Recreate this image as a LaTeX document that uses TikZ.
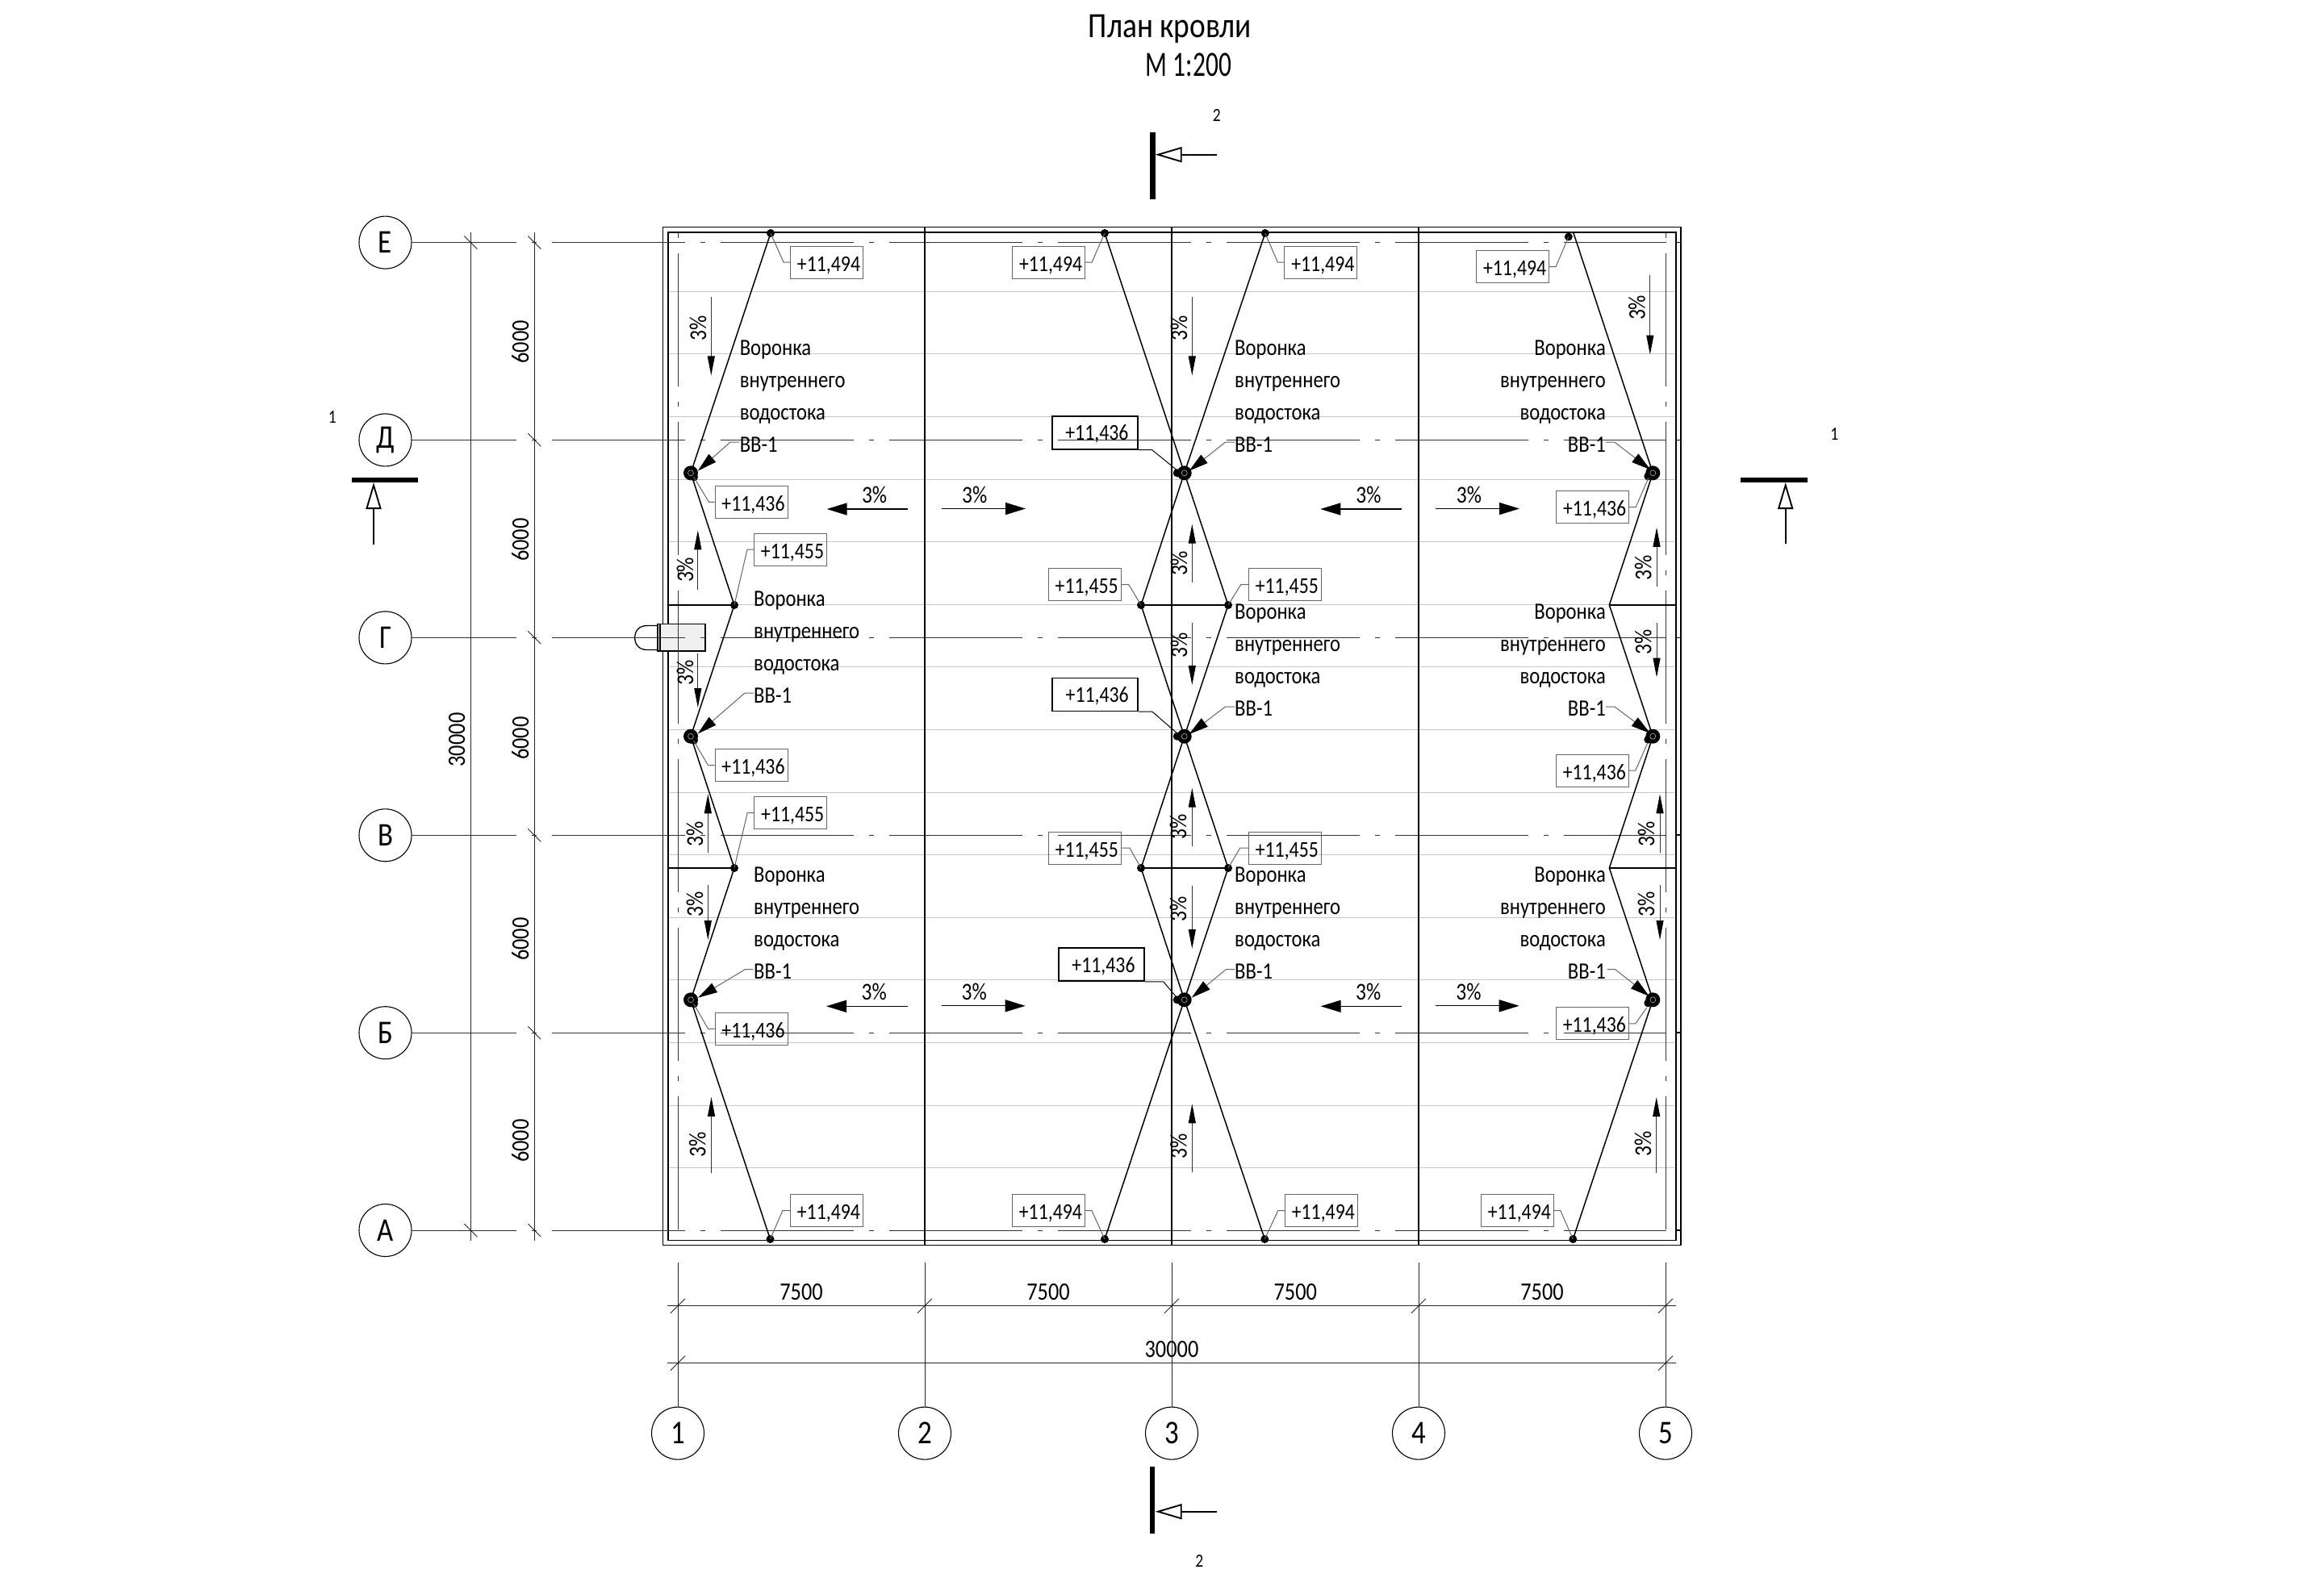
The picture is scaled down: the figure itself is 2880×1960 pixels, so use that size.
\documentclass[tikz,border=0pt]{standalone}
\usepackage{fontspec}
\setmainfont[FakeStretch=0.85]{Carlito}
\usetikzlibrary{arrows.meta}

% one roof funnel: black disc, side blob, thin inner ring
\newcommand{\funnel}[2]{%
  \fill (#1) circle (9);
  \fill (#1) ++(#2) circle (5);
  \draw[gray!60,line width=0.6pt] (#1) circle (3.5);
}

\begin{document}
\begin{tikzpicture}[x=1pt,y=-1pt]
  % overall canvas
  \useasboundingbox (0,0) rectangle (2880,1960);

  % styles
  \tikzset{
    roofln/.style={draw=gray!45,line width=1pt},
    axisln/.style={draw=black!80,line width=1pt,dash pattern=on 165pt off 19pt on 6pt off 19pt},
    solidax/.style={draw=black,line width=1.3pt},
    thinax/.style={draw=black!85,line width=0.9pt},
    wall/.style={draw=black,line width=1.7pt},
    valley/.style={draw=black,line width=1.5pt},
    dimln/.style={draw=black!85,line width=0.9pt},
    leader/.style={draw=black!60,line width=1pt},
    drainarr/.style={leader,-{Triangle[length=24pt,width=13pt,black]}},
    slopev/.style={draw=black!80,line width=1pt,-{Triangle[length=24pt,width=9pt,black]}},
    slopeh/.style={draw=black,line width=1.3pt,-{Triangle[length=25pt,width=15pt,black]}},
    secbar/.style={draw=black,line width=6.5pt},
    secarr/.style={draw=black,line width=1.9pt,-{Triangle[open,length=33pt,width=19pt]}},
    bubble/.style={circle,draw=black,line width=1.1pt,fill=white,minimum size=65pt,inner sep=0pt,font=\fontsize{41}{46}\selectfont},
    lvl/.style={draw=black!60,line width=1pt,minimum width=90pt,minimum height=40pt,inner sep=0pt,text height=22pt,text depth=0pt,
      execute at begin node=\hspace*{5pt},font=\fontsize{28}{32}\selectfont},
    lvlk/.style={lvl,draw=black,line width=1.6pt,minimum width=106pt,minimum height=41pt,text height=19pt},
    dimtxt/.style={inner sep=0pt,font=\fontsize{31}{36}\selectfont},
    slopetxt/.style={inner sep=0pt,font=\fontsize{30}{36}\selectfont},
    noteL/.style={inner sep=0pt,anchor=north west,align=left,font=\fontsize{29}{40}\selectfont},
    noteR/.style={inner sep=0pt,anchor=north east,align=right,font=\fontsize{29}{40}\selectfont},
    smalltxt/.style={inner sep=0pt,anchor=base,font=\fontsize{23}{26}\selectfont},
    titletxt/.style={inner sep=0pt,anchor=base,font=\fontsize{44}{50}\selectfont},
  }

  % white background
  \fill[white] (0,0) rectangle (2880,1960);

  % gray deck lines
  \draw[roofln] (828, 361.3) -- (2077, 361.3);
  \draw[roofln] (828, 438.9) -- (2077, 438.9);
  \draw[roofln] (828, 516.5) -- (2077, 516.5);
  \draw[roofln] (828, 594.1) -- (2077, 594.1);
  \draw[roofln] (828, 671.7) -- (2077, 671.7);
  \draw[roofln] (828, 749.3) -- (2077, 749.3);
  \draw[roofln] (828, 826.9) -- (2077, 826.9);
  \draw[roofln] (828, 904.5) -- (2077, 904.5);
  \draw[roofln] (828, 982.1) -- (2077, 982.1);
  \draw[roofln] (828,1059.7) -- (2077,1059.7);
  \draw[roofln] (828,1137.3) -- (2077,1137.3);
  \draw[roofln] (828,1214.9) -- (2077,1214.9);
  \draw[roofln] (828,1292.5) -- (2077,1292.5);
  \draw[roofln] (828,1370.1) -- (2077,1370.1);
  \draw[roofln] (828,1447.7) -- (2077,1447.7);

  % walls
  \draw[wall] (821.5,281.4) rectangle (2083.3,1543.5);
  \draw[wall] (828,288) rectangle (2077.3,1537.5);
  \draw[wall] (2077.3, 300.6) -- ++(6,0);
  \draw[wall] (2077.3, 545.4) -- ++(6,0);
  \draw[wall] (2077.3, 790.4) -- ++(6,0);
  \draw[wall] (2077.3,1035.3) -- ++(6,0);
  \draw[wall] (2077.3,1280.2) -- ++(6,0);
  \draw[wall] (2077.3,1525.0) -- ++(6,0);

  % scupper
  \draw[wall,fill=gray!12] (815,773.4) rectangle (874.3,806.9);
  \draw[wall] (818.3,773.4) -- (818.3,806.9);
  \draw[line width=1.3pt] (815,775.5) -- (802,775.5)
    .. controls (792,775.5) and (786.7,782) .. (786.7,790.4)
    .. controls (786.7,799) and (792,805.5) .. (802,805.5) -- (815,805.5);

  % grid bubbles
  \node[bubble] (be) at (477.5, 300.6) {Е};
  \node[bubble] (bd) at (477.5, 545.4) {Д};
  \node[bubble] (bg) at (477.5, 790.4) {Г};
  \node[bubble] (bv) at (477.5,1035.3) {В};
  \node[bubble] (bb) at (477.5,1280.2) {Б};
  \node[bubble] (ba) at (477.5,1525.0) {А};
  \node[bubble] (b1) at ( 840,1776.6) {1};
  \node[bubble] (b2) at (1146,1776.6) {2};
  \node[bubble] (b3) at (1452,1776.6) {3};
  \node[bubble] (b4) at (1758,1776.6) {4};
  \node[bubble] (b5) at (2064,1776.6) {5};

  % grid axes, letters
  \draw[axisln,dash phase=36] (be) -- (2065, 300.6);
  \draw[axisln,dash phase=36] (bd) -- (2065, 545.4);
  \draw[axisln,dash phase=36] (bg) -- (2065, 790.4);
  \draw[axisln,dash phase=36] (bv) -- (2065,1035.3);
  \draw[axisln,dash phase=36] (bb) -- (2065,1280.2);
  \draw[axisln,dash phase=36] (ba) -- (2065,1525.0);

  % grid axes, numbers
  \draw[axisln,dash phase=176] (840,281.4) -- (840,1544);
  \draw[axisln,dash phase=176] (2064,281.4) -- (2064,1544);
  \draw[solidax] (1146,281.4) -- (1146,1544);
  \draw[solidax] (1452,281.4) -- (1452,1544);
  \draw[solidax] (1758,281.4) -- (1758,1544);
  \draw[thinax] (b1) -- (840,1565);
  \draw[thinax] (b2) -- (1146,1565);
  \draw[thinax] (b3) -- (1452,1565);
  \draw[thinax] (b4) -- (1758,1565);
  \draw[thinax] (b5) -- (2064,1565);

  % points of the valleys
  \coordinate (ta) at (955,289);
  \coordinate (tb) at (1369,289);
  \coordinate (tc) at (1567.8,289);
  \coordinate (td) at (1950,289);
  \coordinate (td1) at (1943.8,293.5);
  \coordinate (fa) at (954.5,1536);
  \coordinate (fb) at (1369,1536);
  \coordinate (fc) at (1567.3,1536);
  \coordinate (fd) at (1949.3,1536);
  \coordinate (dr1a) at (856,586.3);
  \coordinate (dr2a) at (856,912.7);
  \coordinate (dr3a) at (856,1239.3);
  \coordinate (dr1c) at (1467.7,586.3);
  \coordinate (dr2c) at (1467.7,912.7);
  \coordinate (dr3c) at (1467.7,1239.3);
  \coordinate (dr1e) at (2048.3,586.3);
  \coordinate (dr2e) at (2048.3,912.7);
  \coordinate (dr3e) at (2048.3,1239.3);
  \coordinate (r1a) at (910,750);
  \coordinate (r2a) at (910,1076);
  \coordinate (r1b) at (1414,750);
  \coordinate (r2b) at (1414,1076);
  \coordinate (r1c) at (1522,750);
  \coordinate (r2c) at (1522,1076);
  \coordinate (r1e) at (1994.3,750);
  \coordinate (r2e) at (1994.3,1076);

  % valleys and ridges
  \draw[valley] (ta) -- (dr1a) -- (r1a) -- (dr2a) -- (r2a) -- (dr3a) -- (fa);
  \draw[valley] (tb) -- (dr1c) -- (r1c) -- (dr2c) -- (r2c) -- (dr3c) -- (fc);
  \draw[valley] (tc) -- (dr1c) -- (r1b) -- (dr2c) -- (r2b) -- (dr3c) -- (fb);
  \draw[valley] (td) -- (dr1e) -- (r1e) -- (dr2e) -- (r2e) -- (dr3e) -- (fd);
  \draw[valley] (828,750) -- (r1a);
  \draw[valley] (828,1076) -- (r2a);
  \draw[valley] (r1b) -- (r1c);
  \draw[valley] (r2b) -- (r2c);
  \draw[valley] (r1e) -- (2077.3,750);
  \draw[valley] (r2e) -- (2077.3,1076);

  % dots
  \fill (ta) circle (5);
  \fill (tb) circle (5);
  \fill (tc) circle (5);
  \fill (td1) circle (5);
  \fill (fa) circle (5);
  \fill (fb) circle (5);
  \fill (fc) circle (5);
  \fill (fd) circle (5);
  \fill (r1a) circle (5);
  \fill (r2a) circle (5);
  \fill (r1b) circle (5);
  \fill (r2b) circle (5);
  \fill (r1c) circle (5);
  \fill (r2c) circle (5);

  % funnels
  \funnel{dr1a}{4,5}
  \funnel{dr2a}{4,5}
  \funnel{dr3a}{4,5}
  \funnel{dr1c}{-9,0}
  \funnel{dr2c}{-9,0}
  \funnel{dr3c}{-9,0}
  \funnel{dr1e}{-6,4}
  \funnel{dr2e}{-6,4}
  \funnel{dr3e}{-6,4}

  % level marks, top and bottom
  \node[lvl] (lt1) at (1024.5,325) {+11,494};
  \node[lvl] (lt2) at (1299.6,325) {+11,494};
  \node[lvl] (lt3) at (1636.8,325) {+11,494};
  \node[lvl] (lt4) at (1874.6,330.5) {+11,494};
  \node[lvl] (lb1) at (1024.4,1500.5) {+11,494};
  \node[lvl] (lb2) at (1299.4,1500.5) {+11,494};
  \node[lvl] (lb3) at (1637.3,1500.5) {+11,494};
  \node[lvl] (lb4) at (1880.3,1500.5) {+11,494};
  \draw[leader] (lt1.west) -- ++(-8,0) -- (ta);
  \draw[leader] (lt2.east) -- ++(8,0) -- (tb);
  \draw[leader] (lt3.west) -- ++(-8,0) -- (tc);
  \draw[leader] (lt4.east) -- ++(8,0) -- (td1);
  \draw[leader] (lb1.west) -- ++(-9,0) -- (fa);
  \draw[leader] (lb2.east) -- ++(8,0) -- (fb);
  \draw[leader] (lb3.west) -- ++(-8,0) -- (fc);
  \draw[leader] (lb4.east) -- ++(8,0) -- (fd);

  % level marks at the funnels
  \node[lvl] (ld1a) at (931,622.3) {+11,436};
  \node[lvl] (ld2a) at (931,948.7) {+11,436};
  \node[lvl] (ld3a) at (931,1275.3) {+11,436};
  \node[lvl] (ld1e) at (1973.6,628.7) {+11,436};
  \node[lvl] (ld2e) at (1973.3,955) {+11,436};
  \node[lvl] (ld3e) at (1973.3,1268.8) {+11,436};
  \node[lvlk] (ld1c) at (1356.9,536.4) {+11,436};
  \node[lvlk] (ld2c) at (1357.2,860.9) {+11,436};
  \node[lvlk] (ld3c) at (1365,1195.6) {+11,436};
  \draw[leader] (ld1a.west) -- ++(-7,0) -- (859.5,591);
  \draw[leader] (ld2a.west) -- ++(-8,0) -- (859.5,918);
  \draw[leader] (ld3a.west) -- ++(-8,0) -- (859.5,1244);
  \draw[leader] (ld1e.east) -- ++(8,0) -- (2043,592);
  \draw[leader] (ld2e.east) -- ++(8,0) -- (2041.7,921);
  \draw[leader] (ld3e.east) -- ++(8,0) -- (2040.7,1249);
  \draw[valley,line width=1pt] (ld1c.south east) -- ++(17,0) -- (1460,584);
  \draw[valley,line width=1pt] (ld2c.south east) -- ++(17,0) -- (1460,910);
  \draw[valley,line width=1pt] (ld3c.south east) -- ++(23,0) -- (1457,1235);

  % level marks at the ridges
  \node[lvl] (lr1a) at (979.5,681) {+11,455};
  \node[lvl] (lr2a) at (979.7,1007.5) {+11,455};
  \node[lvl] (lr1b) at (1344.2,724.5) {+11,455};
  \node[lvl] (lr2b) at (1344.3,1051) {+11,455};
  \node[lvl] (lr1c) at (1592.3,724.5) {+11,455};
  \node[lvl] (lr2c) at (1592.3,1051) {+11,455};
  \draw[leader] (lr1a.west) -- ++(-8,0) -- (r1a);
  \draw[leader] (lr2a.west) -- ++(-8,0) -- (r2a);
  \draw[leader] (lr1b.east) -- ++(9,0) -- (r1b);
  \draw[leader] (lr2b.east) -- ++(10,0) -- (r2b);
  \draw[leader] (lr1c.west) -- ++(-9,0) -- (r1c);
  \draw[leader] (lr2c.west) -- ++(-10,0) -- (r2c);

  % funnel notes
  \node[noteL] (nt1a) at (916.6,421.5) {Воронка\\внутреннего\\водостока\\ВВ-1};
  \node[noteL] (nt2a) at (934,732.5) {Воронка\\внутреннего\\водостока\\ВВ-1};
  \node[noteL] (nt3a) at (934,1074.9) {Воронка\\внутреннего\\водостока\\ВВ-1};
  \node[noteL] (nt1c) at (1530,421.5) {Воронка\\внутреннего\\водостока\\ВВ-1};
  \node[noteL] (nt2c) at (1530,748.3) {Воронка\\внутреннего\\водостока\\ВВ-1};
  \node[noteL] (nt3c) at (1530,1074.9) {Воронка\\внутреннего\\водостока\\ВВ-1};
  \node[noteR] (nt1e) at (1990,421.5) {Воронка\\внутреннего\\водостока\\ВВ-1};
  \node[noteR] (nt2e) at (1990,748.3) {Воронка\\внутреннего\\водостока\\ВВ-1};
  \node[noteR] (nt3e) at (1990,1074.9) {Воронка\\внутреннего\\водостока\\ВВ-1};

  % leaders of the notes
  \draw[drainarr] (916,548) -- (905,548) -- (864.8,583.7);
  \draw[drainarr] (934,859) -- (923,859) -- (864.8,909.5);
  \draw[drainarr] (933.3,1201.7) -- (923.3,1201.7) -- (865,1236.7);
  \draw[drainarr] (1530,548) -- (1518.6,548) -- (1473.6,583.7);
  \draw[drainarr] (1530,876) -- (1518.6,876) -- (1473.6,910);
  \draw[drainarr] (1530,1201.7) -- (1519.3,1201.7) -- (1476.7,1236.7);
  \draw[drainarr] (1990,548) -- (2000.8,548) -- (2045.3,582.3);
  \draw[drainarr] (1990,876) -- (2000.8,876) -- (2045,909);
  \draw[drainarr] (1991.7,1201.7) -- (2001.7,1201.7) -- (2044,1235);

  % slopes along the roof
  \draw[slopeh] (1124.6,631) -- (1024.6,631);
  \draw[slopeh] (1167,630.5) -- (1271,630.5);
  \draw[slopeh] (1737.2,631) -- (1636.3,631);
  \draw[slopeh] (1779,630.5) -- (1883,630.5);
  \draw[slopeh] (1125,1247.3) -- (1024,1247.3);
  \draw[slopeh] (1166.7,1246.8) -- (1270.7,1246.8);
  \draw[slopeh] (1737.3,1247.3) -- (1636.7,1247.3);
  \draw[slopeh] (1779,1246.8) -- (1882.7,1246.8);
  \node[slopetxt,anchor=base] (sh1) at (1083.6,623) {3\%};
  \node[slopetxt,anchor=base] (sh2) at (1207.7,623) {3\%};
  \node[slopetxt,anchor=base] (sh3) at (1696,623) {3\%};
  \node[slopetxt,anchor=base] (sh4) at (1820.4,623) {3\%};
  \node[slopetxt,anchor=base] (sh5) at (1083.3,1239.3) {3\%};
  \node[slopetxt,anchor=base] (sh6) at (1207.3,1239.3) {3\%};
  \node[slopetxt,anchor=base] (sh7) at (1695.7,1239.3) {3\%};
  \node[slopetxt,anchor=base] (sh8) at (1820,1239.3) {3\%};

  % slopes across the roof, left column
  \draw[slopev] (881.3,367.6) -- (881.3,465.4);
  \draw[slopev] (864.8,731) -- (864.8,657.3);
  \draw[slopev] (864.8,810) -- (864.8,877);
  \draw[slopev] (877.3,1057.3) -- (877.3,984.3);
  \draw[slopev] (877.3,1096.7) -- (877.3,1165);
  \draw[slopev] (881.5,1453.6) -- (881.5,1359.8);
  \node[slopetxt,rotate=90,anchor=base] (sa1) at (875,407.3) {3\%};
  \node[slopetxt,rotate=90,anchor=base] (sa2) at (859,706.4) {3\%};
  \node[slopetxt,rotate=90,anchor=base] (sa3) at (859,834) {3\%};
  \node[slopetxt,rotate=90,anchor=base] (sa4) at (871,1033.7) {3\%};
  \node[slopetxt,rotate=90,anchor=base] (sa5) at (871,1121.3) {3\%};
  \node[slopetxt,rotate=90,anchor=base] (sa6) at (874.4,1418.8) {3\%};

  % slopes across the roof, middle column
  \draw[slopev] (1477.3,367.6) -- (1477.3,465.4);
  \draw[slopev] (1477.3,722) -- (1477.3,649.7);
  \draw[slopev] (1477.3,772) -- (1477.3,849);
  \draw[slopev] (1477.3,1049.3) -- (1477.3,976.7);
  \draw[slopev] (1477.3,1098.3) -- (1477.3,1176);
  \draw[slopev] (1477.3,1453.3) -- (1477.3,1368.3);
  \node[slopetxt,rotate=90,anchor=base] (sc1) at (1471,407) {3\%};
  \node[slopetxt,rotate=90,anchor=base] (sc2) at (1471,698.4) {3\%};
  \node[slopetxt,rotate=90,anchor=base] (sc3) at (1471,800) {3\%};
  \node[slopetxt,rotate=90,anchor=base] (sc4) at (1470,1025.3) {3\%};
  \node[slopetxt,rotate=90,anchor=base] (sc5) at (1470,1126.7) {3\%};
  \node[slopetxt,rotate=90,anchor=base] (sc6) at (1470.7,1420.7) {3\%};

  % slopes across the roof, right column
  \draw[slopev] (2044.8,341.3) -- (2044.8,439.5);
  \draw[slopev] (2053,727.4) -- (2053,653.8);
  \draw[slopev] (2053,772) -- (2053,839.5);
  \draw[slopev] (2057,1057.3) -- (2057,984.3);
  \draw[slopev] (2057,1096.7) -- (2057,1165);
  \draw[slopev] (2052.7,1454) -- (2052.7,1360);
  \node[slopetxt,rotate=90,anchor=base] (se1) at (2038.5,381.4) {3\%};
  \node[slopetxt,rotate=90,anchor=base] (se2) at (2046.3,703.8) {3\%};
  \node[slopetxt,rotate=90,anchor=base] (se3) at (2046.3,796) {3\%};
  \node[slopetxt,rotate=90,anchor=base] (se4) at (2050,1034) {3\%};
  \node[slopetxt,rotate=90,anchor=base] (se5) at (2050,1121.3) {3\%};
  \node[slopetxt,rotate=90,anchor=base] (se6) at (2046,1418.3) {3\%};

  % left dimensions
  \draw[dimln] (583.3,287.7) -- (583.3,1538);
  \draw[dimln] (662.3,287.7) -- (662.3,1538);
  \draw[dimln] (583.3, 300.6) ++(-8,-8) -- ++(16,16);
  \draw[dimln] (583.3,1525.0) ++(-8,-8) -- ++(16,16);
  \draw[dimln] (662.3, 300.6) ++(-8,-8) -- ++(16,16);
  \draw[dimln] (662.3, 545.4) ++(-8,-8) -- ++(16,16);
  \draw[dimln] (662.3, 790.4) ++(-8,-8) -- ++(16,16);
  \draw[dimln] (662.3,1035.3) ++(-8,-8) -- ++(16,16);
  \draw[dimln] (662.3,1280.2) ++(-8,-8) -- ++(16,16);
  \draw[dimln] (662.3,1525.0) ++(-8,-8) -- ++(16,16);
  \node[dimtxt,rotate=90,anchor=base] (dl1) at (655,424) {6000};
  \node[dimtxt,rotate=90,anchor=base] (dl2) at (655,669) {6000};
  \node[dimtxt,rotate=90,anchor=base] (dl3) at (655,915) {6000};
  \node[dimtxt,rotate=90,anchor=base] (dl4) at (655,1164) {6000};
  \node[dimtxt,rotate=90,anchor=base] (dl5) at (655,1414) {6000};
  \node[dimtxt,rotate=90,anchor=base] (dl6) at (576,917) {30000};

  % bottom dimensions
  \draw[dimln] (827.4,1618.8) -- (2076.7,1618.8);
  \draw[dimln] (827.4,1689.7) -- (2076.7,1689.7);
  \draw[dimln] ( 840,1618.8) ++(-9,9) -- ++(18,-18);
  \draw[dimln] (1146,1618.8) ++(-9,9) -- ++(18,-18);
  \draw[dimln] (1452,1618.8) ++(-9,9) -- ++(18,-18);
  \draw[dimln] (1758,1618.8) ++(-9,9) -- ++(18,-18);
  \draw[dimln] (2064,1618.8) ++(-9,9) -- ++(18,-18);
  \draw[dimln] ( 840,1689.7) ++(-9,9) -- ++(18,-18);
  \draw[dimln] (2064,1689.7) ++(-9,9) -- ++(18,-18);
  \node[dimtxt,anchor=base] (db1) at (993,1611.7) {7500};
  \node[dimtxt,anchor=base] (db2) at (1299,1611.7) {7500};
  \node[dimtxt,anchor=base] (db3) at (1605.3,1611.7) {7500};
  \node[dimtxt,anchor=base] (db4) at (1911,1611.7) {7500};
  \node[dimtxt,anchor=base] (db5) at (1452,1682) {30000};

  % section marks
  \draw[secbar] (436,594.8) -- (518.3,594.8);
  \draw[secarr] (463,675) -- (463,598);
  \draw[secbar] (2157.3,595) -- (2240,595);
  \draw[secarr] (2212.7,674.3) -- (2212.7,598);
  \draw[secbar] (1428.3,164.3) -- (1428.3,247);
  \draw[secarr] (1508.3,191.7) -- (1431.7,191.7);
  \draw[secbar] (1428,1818.3) -- (1428,1901);
  \draw[secarr] (1508.3,1873.7) -- (1431.7,1873.7);
  \node[smalltxt] (sm1) at (411.7,524) {1};
  \node[smalltxt] (sm2) at (2273.3,545) {1};
  \node[smalltxt] (sm3) at (1507.7,150) {2};
  \node[smalltxt] (sm4) at (1486.3,1942.7) {2};

  % title
  \node[titletxt] (ttl1) at (1450,46.5) {План кровли};
  \node[titletxt] (ttl2) at (1473,94) {\scalebox{0.84}[1]{М 1:200}};
\end{tikzpicture}
\end{document}
